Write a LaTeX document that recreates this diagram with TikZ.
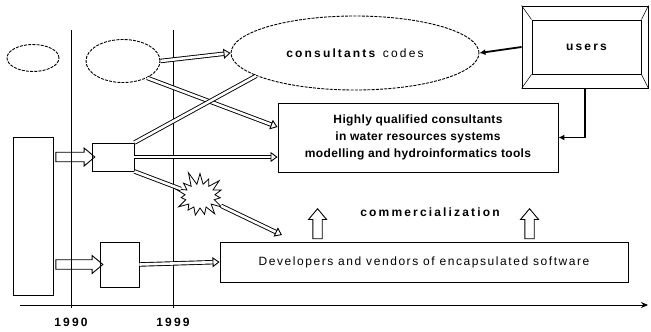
\documentclass[tikz,border=0pt]{standalone}
\usepackage{fontspec}
\setmainfont{Liberation Sans}
\newfontfamily\wf[LetterSpace=18]{Liberation Sans}
\newfontfamily\wfb[LetterSpace=13]{Liberation Sans}
\newfontfamily\wfm[LetterSpace=3]{Liberation Sans}
\usetikzlibrary{shapes.geometric,shapes.symbols,shapes.arrows,arrows.meta,calc}
\begin{document}
\begin{tikzpicture}[x=1pt,y=-1pt, line width=0.9pt,
  dashedell/.style={ellipse, draw, dash pattern=on 3pt off 1.2pt, inner sep=0pt},
  box/.style={draw, rectangle, inner sep=0pt},
  hollow/.style={double, double distance=2.6pt, line width=0.9pt, -{Triangle[open,length=7pt,width=10pt]}},
  fatarrow/.style={single arrow, draw, line width=0.9pt, inner xsep=0pt, inner ysep=4pt, single arrow head extend=4pt, single arrow head indent=0pt, single arrow tip angle=80},
  dline/.style={double, double distance=2.6pt, line width=0.9pt},
  solidarrow/.style={line width=1.8pt, -{Latex[length=6pt,width=6pt]}},
  wide/.style={font=\wf\fontsize{12}{13}\selectfont\bfseries}
]
\useasboundingbox (0,0) rectangle (651,332);
% ellipses
\node[dashedell, minimum width=52pt, minimum height=27pt] (e0) at (33,58) {};
\node[dashedell, minimum width=74pt, minimum height=43pt] (e1) at (123,61) {};
\node[dashedell, minimum width=248pt, minimum height=74pt, font=\wf\fontsize{12}{13}\selectfont] (e2) at (355,53) {\textbf{consultants} codes};
% boxes
\node[box, minimum width=40pt, minimum height=158pt] (lr) at (33,216) {};
\node[box, minimum width=42pt, minimum height=28pt] (b1) at (113,157) {};
\node[box, minimum width=39pt, minimum height=45pt] (b2) at (119.5,264.5) {};
\node[box, minimum width=280pt, minimum height=69pt, align=center, font=\wfm\fontsize{12}{17}\selectfont\bfseries] (main) at (418,137.5)
  {Highly qualified consultants\\in water resources systems\\modelling and hydroinformatics tools};
\node[box, minimum width=408pt, minimum height=40pt, font=\wfb\fontsize{12}{13}\selectfont] (bot) at (424,262) {Developers and vendors of encapsulated software};
% users box
\node[box, minimum width=126pt, minimum height=82pt] (uo) at (585,47) {};
\node[box, minimum width=109pt, minimum height=54pt, wide] (ui) at (586.5,47) {users};
\draw[line width=0.5pt] (uo.north west) -- (ui.north west);
\draw[line width=0.5pt] (uo.north east) -- (ui.north east);
\draw[line width=0.5pt] (uo.south west) -- (ui.south west);
\draw[line width=0.5pt] (uo.south east) -- (ui.south east);
% time lines and axis
\coordinate (t1a) at (71,30); \coordinate (t1b) at (71,308);
\coordinate (t2a) at (173,30); \coordinate (t2b) at (173,308);
\draw (t1a) -- (t1b);
\draw (t2a) -- (t2b);
\coordinate (ax0) at (20,305); \coordinate (ax1) at (648,305);
\draw[-{Stealth[length=7pt,width=6pt]}] (ax0) -- (ax1);
\node[wide] (y1) at (71,322) {1990};
\node[wide] (y2) at (173,322) {1999};
% starburst
\node[starburst, draw, line width=0.8pt, minimum width=58pt, minimum height=52pt, starburst points=15, starburst point height=14pt, random starburst=11] (boom) at (200,196) {};
% label
\node[wide] (com) at (430,212) {commercialization};
% wide hollow arrows
\node[fatarrow, minimum height=39pt, minimum width=18pt] (fa1) at ($(lr.east |- b1.west)!0.5!(b1.west)$) {};
\node[fatarrow, minimum height=47pt, minimum width=18pt] (fa2) at ($(lr.east |- b2.west)!0.5!(b2.west)$) {};
\node[fatarrow, minimum height=30pt, minimum width=18pt, rotate=90] (fa3) at ($(bot.north west)+(98,-15)$) {};
\node[fatarrow, minimum height=30pt, minimum width=18pt, rotate=90] (fa4) at ($(bot.north west)+(310,-15)$) {};
% connectors
\draw[hollow] (e1.east) -- (e2.west);
\draw[hollow] (e1.-35) -- ($(main.north west)!0.35!(main.south west)$);
\draw[dline] (b1.north east) -- (e2.193);
\draw[hollow] (b1.east) -- (main.west |- b1.east);
\draw[hollow] (b2.east) -- (bot.west);
\draw[dline] (b1.south east) -- (boom.160);
\coordinate (tipb) at (282,235);
\draw[hollow] (boom.-25) -- (tipb);
\draw[solidarrow] (uo.west) -- (e2.east);
\draw[solidarrow] (uo.south) |- (main.east);
\end{tikzpicture}
\end{document}
